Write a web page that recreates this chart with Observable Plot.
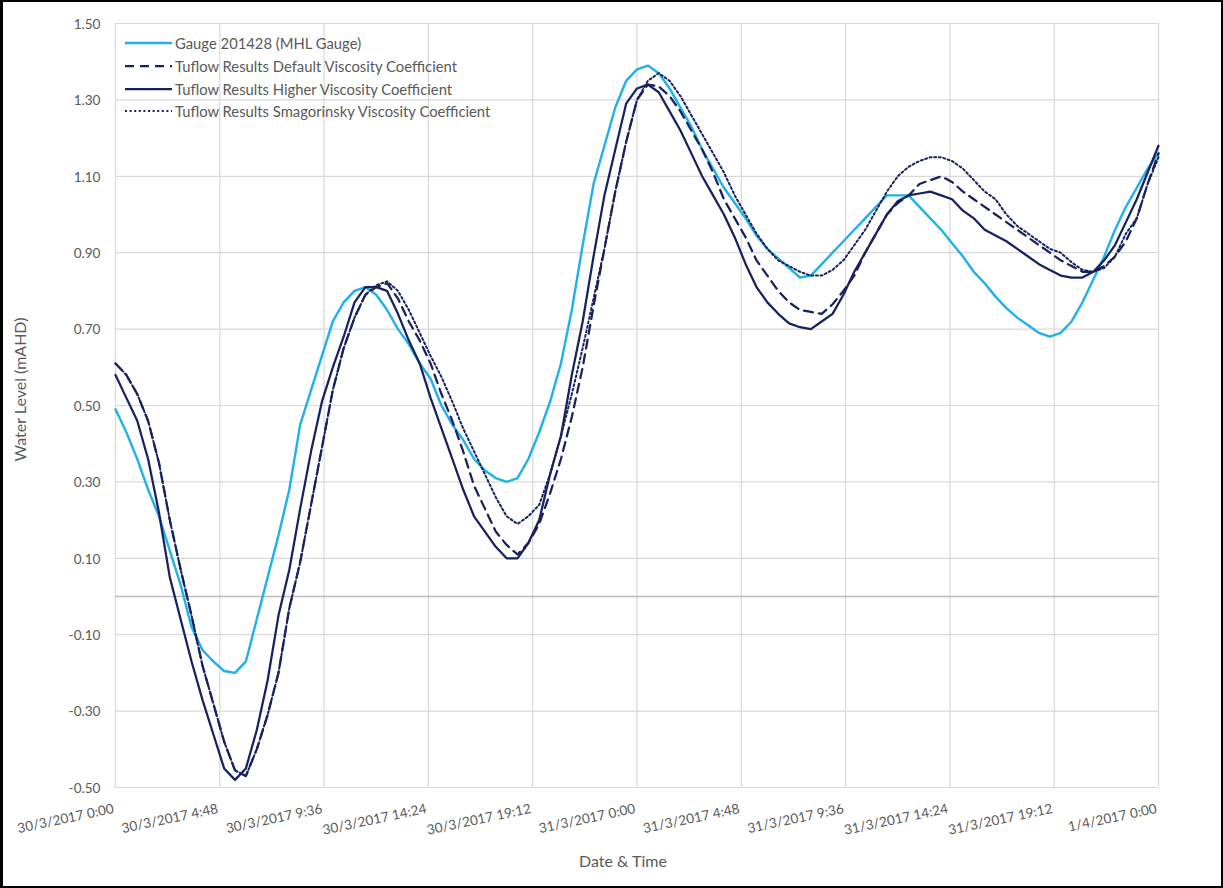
<!DOCTYPE html>
<html>
<head>
<meta charset="utf-8">
<script src="https://cdn.jsdelivr.net/npm/d3@7"></script>
<script src="https://cdn.jsdelivr.net/npm/@observablehq/plot@0.6"></script>
<style>
  body { margin: 0; background: #fff; }
  #chart { position: relative; width: 1223px; height: 888px; font-family: Lato, "Open Sans", sans-serif; }
  #chart svg { position: absolute; left: 0; top: 0; }
  #frame { position: absolute; inset: 0; border: 2px solid #000; border-left-width: 3px; box-sizing: border-box; pointer-events: none; }
  #legend { position: absolute; left: 125px; top: 32px; font-size: 14.8px; color: #595959; }
  #legend .row { display: flex; align-items: center; height: 22.7px; white-space: nowrap; }
  #legend svg { position: static; margin-right: 3px; }
</style>
</head>
<body>
<div id="chart"><div id="frame"></div></div>
<script>
// Half-hourly water levels (mAHD), 30/3/2017 0:00 to 1/4/2017 0:00
const hours = d3.range(0, 48.5, 0.5);

const gauge = [0.49,0.43,0.36,0.28,0.21,0.12,0.03,-0.08,-0.14,-0.17,-0.195,-0.20,-0.17,-0.06,0.05,0.16,0.28,0.45,0.54,0.63,
  0.72,0.77,0.80,0.81,0.79,0.75,0.70,0.66,0.61,0.57,0.50,0.45,0.41,0.36,0.33,0.31,0.30,0.31,0.36,0.43,
  0.51,0.61,0.75,0.92,1.08,1.18,1.28,1.35,1.38,1.39,1.37,1.33,1.28,1.23,1.17,1.12,1.07,1.03,0.99,0.945,
  0.91,0.885,0.86,0.835,0.84,0.87,0.90,0.93,0.96,0.99,1.02,1.05,1.05,1.05,1.02,0.99,0.96,0.925,0.89,0.85,
  0.82,0.785,0.755,0.73,0.71,0.69,0.68,0.69,0.72,0.77,0.83,0.89,0.96,1.02,1.07,1.12,1.16];

const defaultVisc = [0.61,0.58,0.53,0.46,0.35,0.20,0.07,-0.05,-0.18,-0.28,-0.38,-0.455,-0.47,-0.40,-0.31,-0.20,-0.03,0.09,0.24,0.39,
  0.54,0.65,0.73,0.79,0.81,0.82,0.78,0.72,0.67,0.61,0.53,0.46,0.38,0.29,0.23,0.17,0.135,0.11,0.14,0.19,
  0.27,0.36,0.47,0.60,0.76,0.91,1.06,1.19,1.30,1.34,1.335,1.31,1.27,1.22,1.17,1.11,1.04,0.99,0.94,0.88,
  0.84,0.80,0.77,0.75,0.745,0.74,0.765,0.80,0.84,0.90,0.95,1.00,1.03,1.05,1.08,1.09,1.10,1.085,1.06,1.04,
  1.02,1.00,0.98,0.96,0.94,0.92,0.90,0.88,0.865,0.85,0.85,0.865,0.89,0.93,0.99,1.08,1.16];

const higherVisc = [0.58,0.52,0.46,0.36,0.22,0.05,-0.06,-0.17,-0.27,-0.36,-0.45,-0.48,-0.45,-0.35,-0.22,-0.05,0.07,0.23,0.38,0.51,
  0.60,0.68,0.77,0.81,0.81,0.80,0.74,0.67,0.61,0.52,0.44,0.36,0.28,0.21,0.17,0.13,0.10,0.10,0.14,0.20,
  0.32,0.42,0.58,0.72,0.89,1.05,1.17,1.29,1.33,1.34,1.32,1.27,1.22,1.16,1.10,1.05,1.00,0.94,0.87,0.81,
  0.77,0.74,0.715,0.705,0.70,0.72,0.74,0.79,0.85,0.90,0.95,1.00,1.035,1.05,1.055,1.06,1.05,1.04,1.01,0.99,
  0.96,0.945,0.93,0.91,0.89,0.87,0.855,0.84,0.835,0.835,0.85,0.88,0.92,0.98,1.04,1.11,1.18];

const smagorinsky = [0.61,0.58,0.53,0.46,0.35,0.20,0.07,-0.05,-0.18,-0.28,-0.38,-0.455,-0.47,-0.40,-0.31,-0.20,-0.03,0.09,0.24,0.39,
  0.54,0.65,0.73,0.79,0.815,0.825,0.80,0.75,0.69,0.63,0.575,0.51,0.44,0.38,0.32,0.26,0.21,0.19,0.21,0.24,
  0.32,0.42,0.53,0.65,0.78,0.91,1.06,1.19,1.30,1.35,1.37,1.35,1.31,1.26,1.21,1.16,1.11,1.05,1.00,0.95,
  0.91,0.88,0.865,0.85,0.84,0.84,0.855,0.88,0.92,0.96,1.01,1.06,1.10,1.125,1.14,1.15,1.15,1.14,1.12,1.09,
  1.06,1.04,1.00,0.97,0.95,0.93,0.91,0.90,0.875,0.855,0.85,0.86,0.89,0.95,0.99,1.08,1.15];

const seriesNames = [
  "Gauge 201428 (MHL Gauge)",
  "Tuflow Results Default Viscosity Coefficient",
  "Tuflow Results Higher Viscosity Coefficient",
  "Tuflow Results Smagorinsky Viscosity Coefficient"
];

const xTicks = [0, 4.8, 9.6, 14.4, 19.2, 24, 28.8, 33.6, 38.4, 43.2, 48];
const xTickLabels = ["30/3/2017 0:00", "30/3/2017 4:48", "30/3/2017 9:36", "30/3/2017 14:24", "30/3/2017 19:12",
  "31/3/2017 0:00", "31/3/2017 4:48", "31/3/2017 9:36", "31/3/2017 14:24", "31/3/2017 19:12", "1/4/2017 0:00"];
const yTicks = [-0.5, -0.3, -0.1, 0.1, 0.3, 0.5, 0.7, 0.9, 1.1, 1.3, 1.5];
const yTickLabels = ["-0.50", "-0.30", "-0.10", "0.10", "0.30", "0.50", "0.70", "0.90", "1.10", "1.30", "1.50"];

// Line styles per series
const lightBlue = "#1fb1ea";
const navy = "#162260";
const styles = [
  { stroke: lightBlue, strokeWidth: 2.4 },
  { stroke: navy, strokeWidth: 2.25, strokeDasharray: "9,6" },
  { stroke: navy, strokeWidth: 2.25 },
  { stroke: navy, strokeWidth: 2, strokeDasharray: "2,2.6" }
];

const toRows = vals => vals.map((v, i) => ({ h: hours[i], v }));
const seriesRows = [gauge, defaultVisc, higherVisc, smagorinsky].map(toRows);

const textColor = "#595959";

const chart = Plot.plot({
  width: 1223,
  height: 888,
  marginLeft: 115,
  marginRight: 65,
  marginTop: 23,
  marginBottom: 101,
  style: { fontFamily: "Lato, 'Open Sans', sans-serif", fontSize: "13.6px", color: textColor, background: "transparent" },
  x: { domain: [0, 48], axis: null },
  y: { domain: [-0.5, 1.5], axis: null },
  marks: [
    Plot.gridY(yTicks, { stroke: "#d9d9d9", strokeOpacity: 1, strokeWidth: 1.2 }),
    Plot.gridX(xTicks, { stroke: "#d9d9d9", strokeOpacity: 1, strokeWidth: 1.2 }),
    Plot.ruleY([0], { stroke: "#bdbdbd", strokeWidth: 1.5 }),
    ...seriesRows.map((rows, i) => Plot.line(rows, { x: "h", y: "v", ...styles[i], strokeLinejoin: "round" })),
    Plot.text(yTicks, { y: d => d, frameAnchor: "left", dx: -15, dy: 1, textAnchor: "end", lineAnchor: "middle", text: (d, i) => yTickLabels[i], fill: textColor }),
    Plot.text(xTicks, { x: d => d, frameAnchor: "bottom", dx: -2, dy: 21, rotate: -12, textAnchor: "end", lineAnchor: "middle", text: (d, i) => xTickLabels[i], fill: textColor }),
    Plot.text(["Date & Time"], { frameAnchor: "bottom", dx: -14, dy: 74, textAnchor: "middle", lineAnchor: "middle", fontSize: 16, fill: textColor }),
    Plot.text(["Water Level (mAHD)"], { frameAnchor: "left", dx: -95, dy: -16, rotate: -90, textAnchor: "middle", lineAnchor: "middle", fontSize: 16, fill: textColor })
  ]
});

const root = document.getElementById("chart");
root.insertBefore(chart, root.firstChild);

// Legend in the top-left corner of the plotting area
const legend = document.createElement("div");
legend.id = "legend";
seriesNames.forEach((name, i) => {
  const row = document.createElement("div");
  row.className = "row";
  const s = styles[i];
  row.innerHTML = `<svg width="47" height="6"><line x1="0" x2="47" y1="3" y2="3" stroke="${s.stroke}" stroke-width="${s.strokeWidth}" ${s.strokeDasharray ? `stroke-dasharray="${s.strokeDasharray}"` : ""}/></svg><span>${name}</span>`;
  legend.appendChild(row);
});
root.appendChild(legend);
</script>
</body>
</html>
